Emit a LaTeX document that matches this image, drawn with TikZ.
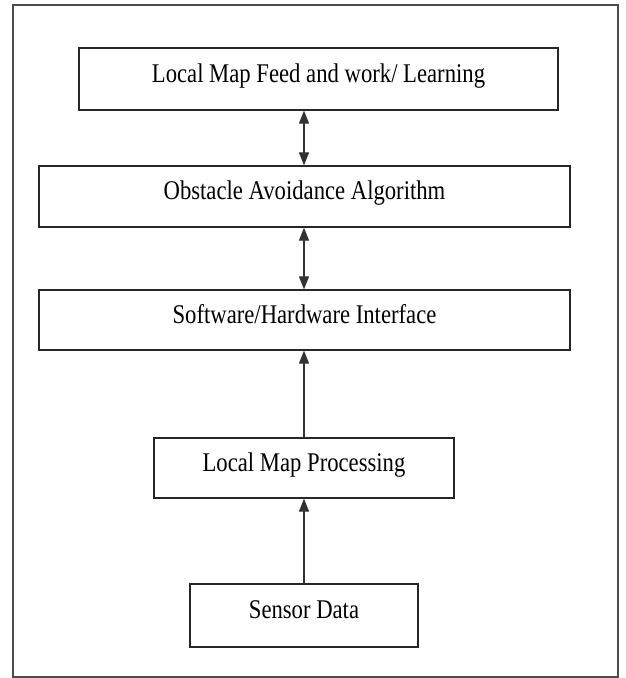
\documentclass[tikz,border=0pt]{standalone}
\usepackage{fontspec}
\setmainfont{Liberation Serif}
\usetikzlibrary{arrows.meta}
\tikzset{
  blk/.style={draw=black!85, line width=1.2pt, rectangle, inner sep=0pt, align=center,
    font=\fontsize{27pt}{30pt}\selectfont, text height=0.64em, text depth=0em},
  conn/.style={draw=black!80, line width=1.1pt},
  tip/.style={-{Triangle[width=10pt,length=13pt]}},
  tips/.style={{Triangle[width=10pt,length=13pt]}-{Triangle[width=10pt,length=13pt]}},
  frm/.style={draw=black!70, line width=1.4pt}
}
\newcommand{\sq}[1]{\scalebox{0.84}[1]{#1}}
\begin{document}
\begin{tikzpicture}[x=1pt,y=1pt]
\useasboundingbox (0,0) rectangle (625,-678);
\draw[frm] (13,-5) rectangle (618,-677);
\node[blk, minimum width=479pt, minimum height=62pt] (b1) at (318.5,-79) {\sq{Local Map Feed and work/ Learning}};
\node[blk, minimum width=531pt, minimum height=61pt] (b2) at (304.5,-196.5) {\sq{Obstacle Avoidance Algorithm}};
\node[blk, minimum width=531pt, minimum height=60pt] (b3) at (304.5,-320) {\sq{Software/Hardware Interface}};
\node[blk, minimum width=300pt, minimum height=60pt] (b4) at (304,-468) {\sq{Local Map Processing}};
\node[blk, minimum width=228pt, minimum height=63pt] (b5) at (304,-615.5) {\sq{Sensor Data}};
\draw[conn,tips] (b2.north -| b5.north) -- (b1.south -| b5.north);
\draw[conn,tips] (b3.north -| b5.north) -- (b2.south -| b5.north);
\draw[conn,tip] (b4.north -| b5.north) -- (b3.south -| b5.north);
\draw[conn,tip] (b5.north) -- (b4.south -| b5.north);
\end{tikzpicture}
\end{document}
